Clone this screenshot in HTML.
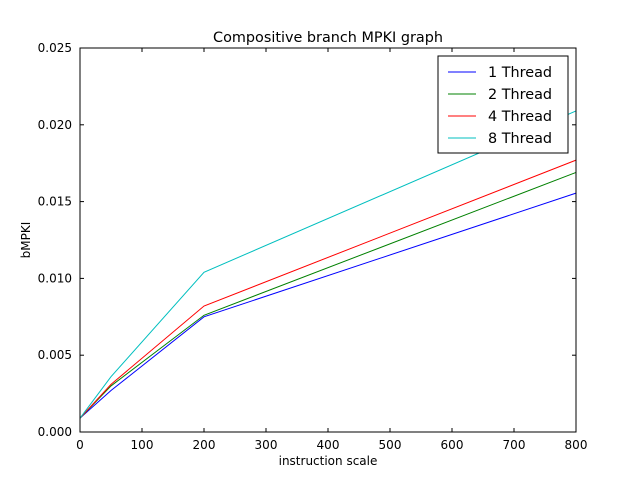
<!DOCTYPE html>
<html><head><meta charset="utf-8"><style>
html,body{margin:0;padding:0;background:#fff;}
svg text{font-family:"DejaVu Sans","Liberation Sans",sans-serif;}
</style></head><body>
<svg id="chart" width="640" height="480" xmlns="http://www.w3.org/2000/svg">
<rect width="640" height="480" fill="#fff"/>
<text x="328" y="42" font-size="14.4" text-anchor="middle">Compositive branch MPKI graph</text>
<text x="328" y="465" font-size="12" text-anchor="middle">instruction scale</text>
<text x="30" y="240" font-size="12" text-anchor="middle" transform="rotate(-90 30 240)">bMPKI</text>
<g id="marks"></g>
<g id="axes"></g>
<g id="legend"></g>
</svg>
<script>
const xValues = [0, 50, 200, 800];
const seriesNames = ["1 Thread", "2 Thread", "4 Thread", "8 Thread"];
const thread1 = [0.0009, 0.0027, 0.0075, 0.01555];
const thread2 = [0.0009, 0.0030, 0.0076, 0.0169];
const thread4 = [0.0009, 0.0031, 0.0082, 0.0177];
const thread8 = [0.0009, 0.0036, 0.0104, 0.0209];
const xTicks = [0, 100, 200, 300, 400, 500, 600, 700, 800];
const yTicks = [0, 0.005, 0.010, 0.015, 0.020, 0.025];
const yTickLabels = ["0.000", "0.005", "0.010", "0.015", "0.020", "0.025"];

const L=80,R=576,T=48,B=432;
const sx=v=>L+(v-0)/(800-0)*(R-L);
const sy=v=>B-(v-0)/(0.025-0)*(B-T);
const NS="http://www.w3.org/2000/svg";
const colors=["#0000ff","#008000","#ff0000","#00bfbf"];
const all=[thread1,thread2,thread4,thread8];
const marks=document.getElementById('marks');
all.forEach((s,i)=>{
  const p=document.createElementNS(NS,'polyline');
  p.setAttribute('points',s.map((v,j)=>sx(xValues[j])+','+sy(v)).join(' '));
  p.setAttribute('fill','none');p.setAttribute('stroke',colors[i]);p.setAttribute('stroke-width','1');
  
  
  marks.appendChild(p);
});
const axes=document.getElementById('axes');
let h='<rect x="'+L+'" y="'+T+'" width="'+(R-L)+'" height="'+(B-T)+'" fill="none" stroke="#000" stroke-width="1"/>';
xTicks.forEach(t=>{const x=sx(t);
  h+='<line x1="'+x+'" y1="'+B+'" x2="'+x+'" y2="'+(B-4)+'" stroke="#000"/><line x1="'+x+'" y1="'+T+'" x2="'+x+'" y2="'+(T+4)+'" stroke="#000"/>';
  h+='<text x="'+x+'" y="'+(B+17)+'" font-size="12" text-anchor="middle">'+t+'</text>';});
yTicks.forEach((t,i)=>{const y=sy(t);
  h+='<line x1="'+L+'" y1="'+y+'" x2="'+(L+4)+'" y2="'+y+'" stroke="#000"/><line x1="'+R+'" y1="'+y+'" x2="'+(R-4)+'" y2="'+y+'" stroke="#000"/>';
  h+='<text x="'+(L-8)+'" y="'+(y+4)+'" font-size="12" text-anchor="end">'+yTickLabels[i]+'</text>';});
axes.innerHTML=h;
const lg=document.getElementById('legend');


let g='<rect x="438" y="56" width="130" height="97" fill="#fff" stroke="#000"/>';
seriesNames.forEach((n,i)=>{const y=72+i*22;
  g+='<g><line x1="448" y1="'+y+'" x2="476" y2="'+y+'" stroke="'+colors[i]+'"/><text x="488" y="'+(y+5)+'" font-size="14.4">'+n+'</text></g>';});
lg.innerHTML=g;
</script>
</body></html>
